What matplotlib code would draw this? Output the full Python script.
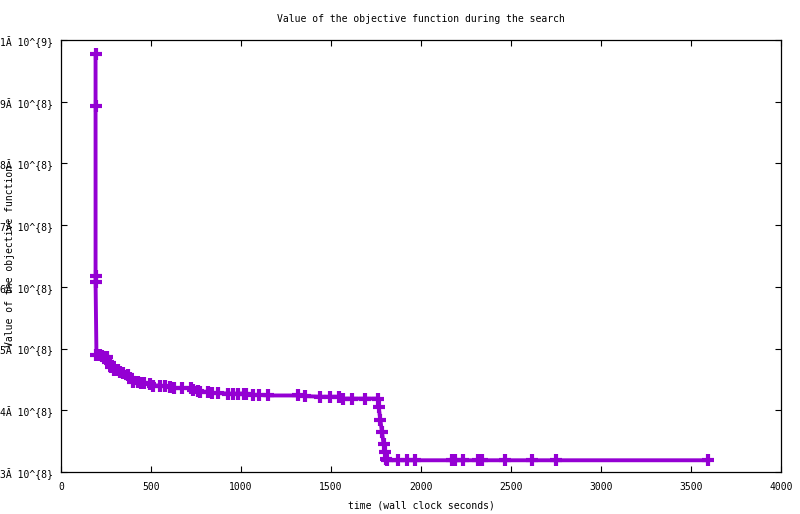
import matplotlib
matplotlib.use("Agg")
import matplotlib.pyplot as plt

# time (wall clock seconds)
times = [192, 192, 192, 192,
         197, 217, 226, 241, 254, 259, 272, 278, 296, 318, 328, 346, 371, 383,
         402, 429, 444, 463, 494, 513, 550, 578, 606, 629, 671, 722, 735, 763,
         772, 818, 837, 871, 929, 957, 985, 1018, 1028, 1065, 1102, 1152, 1318,
         1356, 1439, 1494, 1546, 1565, 1615, 1689, 1759,
         1765, 1774, 1783, 1792, 1800, 1806,
         1813, 1871, 1921, 1967, 2171, 2189, 2235, 2318, 2337, 2467, 2615,
         2750, 3596]
# objective value in units of 1e8
values_e8 = [9.77, 8.93, 6.18, 6.08,
             4.90, 4.90, 4.88, 4.87, 4.86, 4.78, 4.76, 4.70, 4.66, 4.65, 4.62,
             4.60, 4.57, 4.52, 4.46, 4.46, 4.45, 4.44, 4.42, 4.40, 4.40, 4.39,
             4.38, 4.36, 4.36, 4.36, 4.33, 4.32, 4.30, 4.30, 4.28, 4.28, 4.27,
             4.27, 4.27, 4.27, 4.26, 4.25, 4.25, 4.24, 4.24, 4.23, 4.22, 4.22,
             4.22, 4.19, 4.19, 4.19, 4.19,
             4.05, 3.85, 3.65, 3.46, 3.32, 3.21,
             3.19, 3.19, 3.19, 3.19, 3.19, 3.19, 3.19, 3.19, 3.19, 3.19, 3.19,
             3.19, 3.19]

x_ticks = [0, 500, 1000, 1500, 2000, 2500, 3000, 3500, 4000]
y_ticks_e8 = [3, 4, 5, 6, 7, 8, 9, 10]
y_tick_labels = ["3Ă 10^{8}", "4Ă 10^{8}", "5Ă 10^{8}", "6Ă 10^{8}",
                 "7Ă 10^{8}", "8Ă 10^{8}", "9Ă 10^{8}", "1Ă 10^{9}"]

title = "Value of the objective function during the search"
xlabel = "time (wall clock seconds)"
ylabel = "Value of the objective function"

plt.rcParams['font.family'] = ['DejaVu Sans Mono']
FS = 7
color = "#9400D3"

fig = plt.figure(figsize=(8, 5.14), dpi=100)
ax = fig.add_axes([61/800, (514-472)/514, 720/800, 432/514])

values = [v * 1e8 for v in values_e8]
ax.plot(times, values, color=color, lw=2.8, marker='+', markersize=9,
        markeredgewidth=3.0, solid_joinstyle='miter', clip_on=False)

ax.set_xlim(0, 4000)
ax.set_ylim(3e8, 1e9)
ax.set_xticks(x_ticks)
ax.set_xticklabels([str(t) for t in x_ticks])
ax.set_yticks([v * 1e8 for v in y_ticks_e8])
ax.set_yticklabels(y_tick_labels)

ax.tick_params(direction='in', top=True, right=True, length=4, width=0.8,
               labelsize=FS, colors='black')
ax.tick_params(axis='x', pad=7)
ax.tick_params(axis='y', pad=6)
for s in ax.spines.values():
    s.set_linewidth(0.9)
    s.set_color('black')

fig.text(421/800, 1 - 19/514, title, ha='center', va='center', fontsize=FS)
fig.text(421/800, 1 - 505/514, xlabel, ha='center', va='center', fontsize=FS)
fig.text(10/800, 1 - 256/514, ylabel, ha='center', va='center',
         rotation=90, fontsize=FS)

fig.savefig("out.png", dpi=100)
